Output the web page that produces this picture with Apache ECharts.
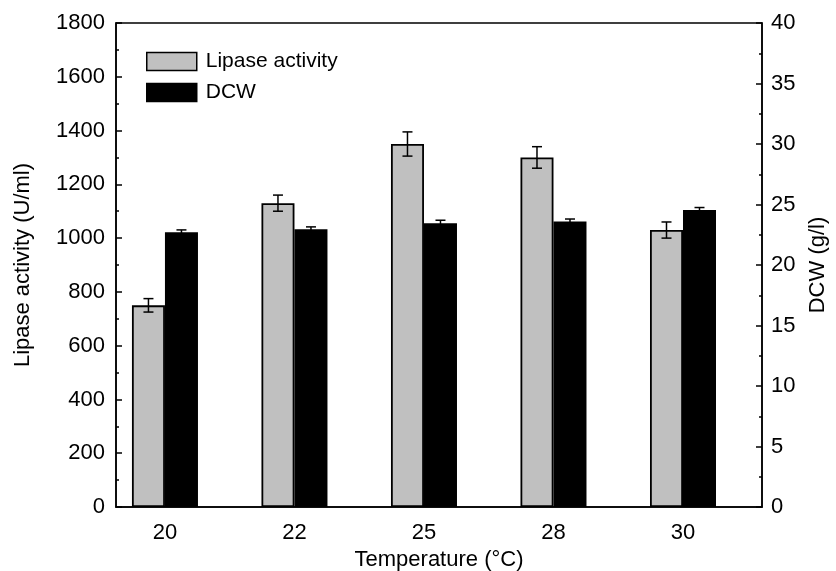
<!DOCTYPE html>
<html>
<head>
<meta charset="utf-8">
<script src="https://cdn.jsdelivr.net/npm/echarts@6/dist/echarts.min.js"></script>
<style>
	html, body { margin: 0; padding: 0; background: #fff; }
	#chart { width: 836px; height: 571px; }
</style>
</head>
<body>
<div id="chart"></div>
<script>
// 数据
var temperatures = ['20', '22', '25', '28', '30'];
var lipaseActivity = [750, 1130, 1350, 1300, 1030];
var lipaseErr = [25, 30, 45, 40, 30];
var dcw = [22.7, 22.95, 23.45, 23.6, 24.55];
var dcwErr = [0.2, 0.2, 0.25, 0.2, 0.2];

var FONT = 'Liberation Sans, Arial, sans-serif';
var FS = 22;
var BAR_W = 33;

function toPairs(vals) {
	var out = [];
	for (var i = 0; i < vals.length; i++) {
		out.push([i, vals[i]]);
	}
	return out;
}

function errData(vals, errs) {
	var out = [];
	for (var i = 0; i < vals.length; i++) {
		out.push([i, vals[i] - errs[i], vals[i] + errs[i]]);
	}
	return out;
}

/**
 * 误差线 (I 形)
 */
function errorRenderer(shift) {
	return function (params, api) {
		var lo = api.coord([api.value(0), api.value(1)]);
		var hi = api.coord([api.value(0), api.value(2)]);
		var x = lo[0] + shift;
		var cap = 5;
		var style = { stroke: '#000', lineWidth: 1.5 };
		return {
			type: 'group',
			children: [
				{ type: 'line', shape: { x1: x, y1: lo[1], x2: x, y2: hi[1] }, style: style },
				{ type: 'line', shape: { x1: x - cap, y1: lo[1], x2: x + cap, y2: lo[1] }, style: style },
				{ type: 'line', shape: { x1: x - cap, y1: hi[1], x2: x + cap, y2: hi[1] }, style: style }
			]
		};
	};
}

function yAxisBase() {
	return {
		type: 'value',
		nameLocation: 'middle',
		nameTextStyle: { fontFamily: FONT, fontSize: FS, color: '#000' },
		axisLine: { show: true, onZero: false, lineStyle: { color: '#000', width: 1.5 } },
		axisTick: { show: true, inside: true, length: 6, lineStyle: { color: '#000', width: 1.5 } },
		minorTick: { show: true, splitNumber: 2, length: 3, lineStyle: { color: '#000', width: 1.5 } },
		splitLine: { show: false },
		axisLabel: {
			fontFamily: FONT, fontSize: FS, color: '#000',
			formatter: function (v) { return String(v); }
		}
	};
}

var leftAxis = yAxisBase();
leftAxis.min = 0;
leftAxis.max = 1800;
leftAxis.interval = 200;
leftAxis.name = 'Lipase activity (U/ml)';
leftAxis.nameGap = 82;
leftAxis.axisLabel.margin = 11;

var rightAxis = yAxisBase();
rightAxis.min = 0;
rightAxis.max = 40;
rightAxis.interval = 5;
rightAxis.position = 'right';
rightAxis.name = 'DCW (g/l)';
rightAxis.nameGap = 45;
rightAxis.nameRotate = 90;
rightAxis.axisLabel.margin = 9;

var myChart = echarts.init(document.getElementById('chart'));
myChart.setOption({
	backgroundColor: '#fff',
	animation: false,
	textStyle: { fontFamily: FONT },
	grid: {
		left: 116,
		right: 74,
		top: 23,
		bottom: 64,
		show: true,
		borderColor: '#000',
		borderWidth: 1.5,
		containLabel: false,
		outerBoundsMode: 'none'
	},
	legend: {
		left: 141,
		top: 46,
		orient: 'vertical',
		itemWidth: 50,
		itemHeight: 18,
		itemGap: 10,
		textStyle: { fontFamily: FONT, fontSize: 21, color: '#000', padding: [0, 0, 0, 4] },
		data: [
			{ name: 'Lipase activity', icon: 'rect', itemStyle: { color: '#c0c0c0', borderColor: '#000', borderWidth: 1.5 } },
			{ name: 'DCW', icon: 'rect', itemStyle: { color: '#000', borderColor: '#000', borderWidth: 1.5 } }
		]
	},
	xAxis: {
		type: 'value',
		min: -0.378,
		max: 4.61,
		name: 'Temperature (°C)',
		nameLocation: 'middle',
		nameGap: 33,
		nameTextStyle: { fontFamily: FONT, fontSize: FS, color: '#000' },
		axisLine: { show: true, onZero: false, lineStyle: { color: '#000', width: 1.5 } },
		axisTick: { show: false },
		splitLine: { show: false },
		axisLabel: {
			customValues: [0, 1, 2, 3, 4],
			formatter: function (v) { return temperatures[Math.round(v)]; },
			fontFamily: FONT,
			fontSize: FS,
			color: '#000',
			margin: 15
		}
	},
	yAxis: [leftAxis, rightAxis],
	series: [
		{
			name: 'Lipase activity',
			type: 'bar',
			yAxisIndex: 0,
			barWidth: BAR_W,
			barGap: '0%',
			itemStyle: { color: '#c0c0c0', borderColor: '#000', borderWidth: 1.8 },
			data: toPairs(lipaseActivity)
		},
		{
			name: 'DCW',
			type: 'bar',
			yAxisIndex: 1,
			barWidth: BAR_W,
			barGap: '0%',
			itemStyle: { color: '#000', borderColor: '#000', borderWidth: 1.5 },
			data: toPairs(dcw)
		},
		{
			type: 'custom',
			yAxisIndex: 0,
			z: 5,
			renderItem: errorRenderer(-BAR_W / 2),
			encode: { x: 0, y: [1, 2] },
			data: errData(lipaseActivity, lipaseErr)
		},
		{
			type: 'custom',
			yAxisIndex: 1,
			z: 5,
			renderItem: errorRenderer(BAR_W / 2),
			encode: { x: 0, y: [1, 2] },
			data: errData(dcw, dcwErr)
		}
	]
});
</script>
</body>
</html>
